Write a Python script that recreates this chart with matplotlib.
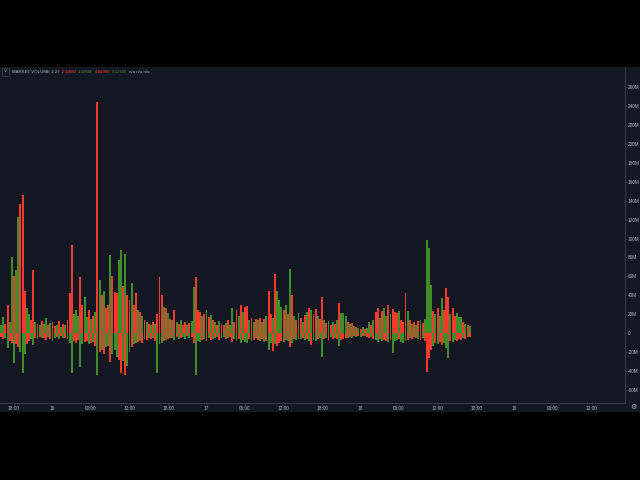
import matplotlib
matplotlib.use("Agg")
import matplotlib.pyplot as plt
from matplotlib.patches import Rectangle
import numpy as np

plt.rcParams["font.family"] = ["Liberation Sans", "DejaVu Sans"]

# volume bars, one every 20 minutes, starting 15th 16:00 (values in millions)
up_vol = [
    8, 17, 10, 30, 12, 81, 60, 67, 123, 137,
    146, 45, 27, 20, 14, 67, 12, 10, 8, 13,
    10, 16, 8, 11, 12, 7, 9, 13, 6, 10,
    9, 14, 42, 93, 20, 24, 18, 59, 30, 38,
    17, 24, 15, 18, 22, 244, 56, 40, 45, 27,
    30, 83, 60, 43, 42, 77, 88, 50, 84, 40,
    35, 53, 30, 42, 24, 22, 18, 14, 12, 10,
    8, 12, 10, 20, 59, 40, 28, 26, 21, 15,
    14, 24, 12, 10, 14, 8, 12, 9, 11, 13,
    49, 59, 24, 22, 18, 20, 24, 17, 19, 14,
    12, 9, 13, 10, 8, 11, 14, 9, 26, 12,
    24, 18, 30, 22, 28, 29, 14, 16, 12, 15,
    14, 16, 12, 15, 18, 45, 20, 16, 63, 45,
    35, 28, 24, 30, 20, 68, 40, 18, 14, 21,
    16, 12, 19, 22, 26, 24, 20, 25, 18, 15,
    38, 14, 11, 13, 9, 12, 10, 14, 32, 21,
    21, 18, 12, 10, 11, 7, 6, 5, 4, 6,
    4, 5, 12, 8, 14, 22, 27, 16, 23, 26,
    18, 30, 20, 25, 22, 21, 23, 14, 12, 42,
    23, 14, 10, 12, 9, 13, 14, 11, 15, 98,
    90, 51, 23, 20, 26, 18, 37, 24, 48, 38,
    20, 26, 18, 21, 17, 17, 12, 10, 8, 7,
]
down_vol = [
    4, 6, 5, 16, 8, 10, 32, 12, 15, 20,
    42, 22, 12, 8, 6, 13, 5, 6, 4, 5,
    5, 7, 4, 6, 8, 5, 4, 6, 3, 5,
    5, 6, 10, 42, 8, 10, 7, 36, 12, 9,
    8, 12, 10, 9, 14, 44, 20, 18, 22, 15,
    14, 31, 22, 18, 25, 28, 42, 30, 44, 35,
    20, 15, 12, 10, 9, 8, 10, 6, 7, 5,
    6, 5, 8, 42, 12, 10, 8, 7, 6, 5,
    5, 7, 4, 6, 5, 4, 6, 3, 5, 4,
    10, 44, 8, 9, 7, 6, 8, 5, 7, 6,
    5, 4, 7, 5, 4, 6, 5, 4, 9, 6,
    8, 6, 11, 7, 9, 10, 6, 8, 7, 5,
    7, 8, 6, 9, 8, 18, 10, 19, 12, 14,
    10, 8, 9, 7, 8, 15, 10, 6, 7, 6,
    6, 5, 7, 6, 8, 13, 7, 8, 6, 5,
    25, 6, 5, 7, 4, 6, 5, 6, 14, 7,
    6, 5, 5, 4, 5, 3, 4, 3, 4, 3,
    3, 4, 5, 4, 6, 7, 9, 6, 8, 7,
    8, 9, 7, 21, 8, 7, 6, 9, 11, 8,
    7, 5, 6, 4, 5, 6, 7, 5, 8, 41,
    26, 18, 14, 10, 12, 9, 13, 10, 16, 26,
    8, 9, 7, 8, 6, 7, 5, 6, 4, 4,
]
# colour of the upper bar (g/r); lower bar takes the other one
bar_side = (
    "ggrrggrggr" "rrggrrgrgr" "ggrgrrgrgr" "grrrgggrrg" "grgrgrgrgr"
    "rgrrrggrgr" "rgrrgrgrgr" "grgrrrgrgr" "grgrgrrgrg" "grrrgrgrgr"
    "grgrrgrggr" "rgrgrrgrgr" "grgrgrrgrg" "ggrgrgrgrg" "rgrgrgrrgr"
    "rgrgrgrgrg" "ggrgrgrgrg" "rggrgrrgrg" "grgrrrgrrr" "grgrgrgrgg"
    "ggrgrggrrr" "grrgggrgrg"
)

# axis labels
y_ticks = [260, 240, 220, 200, 180, 160, 140, 120, 100, 80, 60, 40, 20, 0, -20, -40, -60]
x_tick_hours = [18, 24, 30, 36, 42, 48, 54, 60, 66, 72, 78, 84, 90, 96, 102, 108]
x_tick_labels = ["18:00", "16", "06:00", "12:00", "18:00", "17", "06:00", "12:00",
                 "18:00", "18", "06:00", "12:00", "18:00", "19", "06:00", "12:00"]
header_vals = ["-2.485M", "4.335M", "4.849M", "5.121M"]

BG = "#131722"
RED = "#f23b2c"
GREEN = "#3f8c2a"
TXT = "#b2b5be"
LINE = "#363a45"

fig = plt.figure(figsize=(6.4, 4.8), dpi=100, facecolor="black")
fig.patches.append(Rectangle((0, 68 / 480), 1, 345 / 480, transform=fig.transFigure,
                             facecolor=BG, edgecolor="none", zorder=-5))

ax = fig.add_axes([0, 77 / 480, 625 / 640, 336 / 480])
ax.set_facecolor(BG)

t = 16 + np.arange(len(up_vol)) / 3
up_cols = [GREEN if c == "g" else RED for c in bar_side]
dn_cols = [RED if c == "g" else GREEN for c in bar_side]
ax.bar(t, np.array(up_vol), width=0.3, color=up_cols, linewidth=0, antialiased=False)
ax.bar(t, -np.array(down_vol), width=0.3, color=dn_cols, linewidth=0, antialiased=False)

ax.set_xlim(15.82, 113.2)
ax.set_ylim(-74, 281.5)

ax.yaxis.tick_right()
ax.set_yticks(y_ticks)
ax.set_yticklabels([("0" if v == 0 else f"{v}M") for v in y_ticks])
ax.set_xticks(x_tick_hours)
ax.set_xticklabels(x_tick_labels)
ax.tick_params(axis="both", labelsize=3.4, length=1.2, width=0.5, pad=1,
               colors=LINE, labelcolor=TXT)

for s in ["top", "left"]:
    ax.spines[s].set_visible(False)
for s in ["right", "bottom"]:
    ax.spines[s].set_color(LINE)
    ax.spines[s].set_linewidth(0.8)

# header line
fig.add_artist(Rectangle((2 / 640, 1 - 76 / 480), 7 / 640, 8 / 480, transform=fig.transFigure,
                         facecolor="none", edgecolor=LINE, linewidth=0.6))
fig.text(5.5 / 640, 1 - 72 / 480, "˅", fontsize=4, color=TXT, ha="center", va="center")
fig.text(12 / 640, 1 - 72 / 480, "MARKET VOLUME 3 27", fontsize=3.2, color=TXT, va="center")
hx = [61, 78, 95, 112]
hc = [RED, GREEN, RED, GREEN]
for x, s, c in zip(hx, header_vals, hc):
    fig.text(x / 640, 1 - 72 / 480, s, fontsize=3.2, color=c, va="center")
fig.text(129 / 640, 1 - 72 / 480, "n/a n/a n/a", fontsize=3.2, color=TXT, va="center")

# settings icon
fig.text(633 / 640, 1 - 407 / 480, "⚙", family="DejaVu Sans", fontsize=5, color=TXT,
         ha="center", va="center")

fig.savefig("out.png", dpi=100, facecolor="black")
